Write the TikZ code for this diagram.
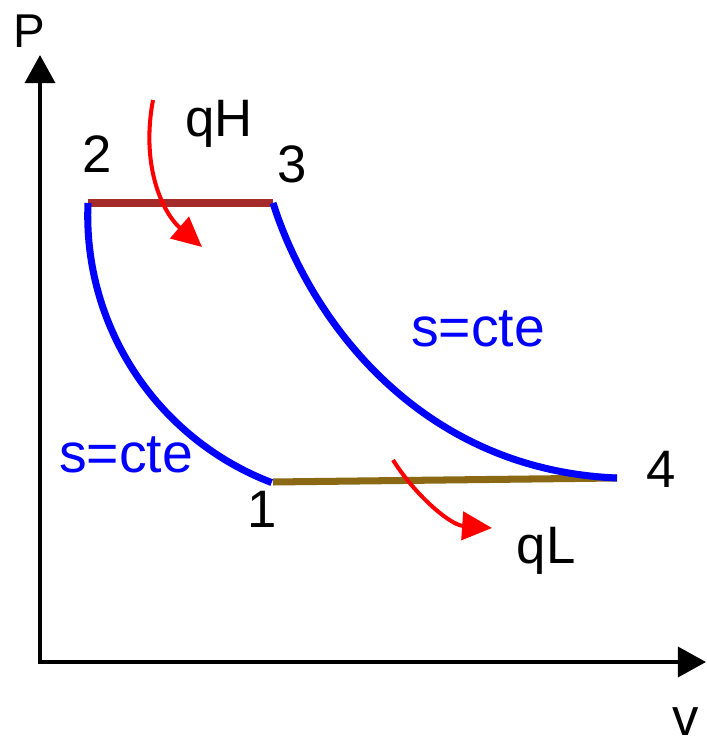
\documentclass[tikz,border=0pt]{standalone}
\usepackage{fontspec}
\setmainfont{Liberation Sans}
\usetikzlibrary{arrows.meta, positioning}
\definecolor{cIsen}{RGB}{0,0,255}
\definecolor{cHot}{RGB}{165,42,42}
\definecolor{cCold}{RGB}{139,105,20}
\definecolor{cHeat}{RGB}{255,0,0}
\tikzset{
  axisline/.style={line width=2.3pt, color=black,
                   {Triangle[length=16pt, width=17pt]}-{Triangle[length=16pt, width=17pt]}},
  isenline/.style={line width=4pt, color=cIsen},
  hotline/.style={line width=4pt, color=cHot},
  coldline/.style={line width=4pt, color=cCold},
  heatarrow/.style={line width=2.3pt, color=cHeat,
                    -{Triangle[length=17pt, width=16pt]}},
  statelabel/.style={font=\fontsize{30}{36}\selectfont, anchor=base, inner sep=0pt},
  isenlabel/.style={statelabel, font=\fontsize{31.5}{38}\selectfont, text=cIsen}
}
\begin{document}
\begin{tikzpicture}[x=0.02cm, y=0.02cm]
  \useasboundingbox (0,0) rectangle (706,743);

  % Axes
  \coordinate (orig) at (40,81);
  \coordinate (ptop) at (40,688);
  \coordinate (vend) at (706,81);
  \draw[axisline] (ptop) -- (orig) -- (vend);
  \node[statelabel, font=\fontsize{27}{32}\selectfont] (labP) at (29,695) {P};
  \node[statelabel] (labv) at (686,8) {v};

  % States
  \coordinate (s1) at (273,261);
  \coordinate (s2) at (88,540);
  \coordinate (s3) at (273,540);
  \coordinate (s4) at (617,265);

  % Heat addition / rejection
  \draw[hotline] (s2) -- (s3);
  \draw[coldline] (s1) -- (s4);

  % Isentropes
  \draw[isenline] (s2) arc[start angle=177.5, end angle=249.1, radius=5.72cm];
  \draw[isenline] (s3) .. controls (310,423) and (420,273) .. (s4);

  % Labels
  \node[statelabel] (lab1) at (262,215) {1};
  \node[statelabel] (lab2) at (97,570) {2};
  \node[statelabel] (lab3) at (292,560) {3};
  \node[statelabel] (lab4) at (661,255) {4};
  \node[isenlabel] (isenR) at (478,396) {s=cte};
  \node[isenlabel] (isenL) at (126,270) {s=cte};
  \node[statelabel] (labqH) at (219,606) {qH};
  \node[statelabel] (labqL) at (546,179) {qL};

  % Heat arrows
  \coordinate (qHin) at (153,643);
  \coordinate (qHtip) at (202,496);
  \coordinate (qLin) at (393,283);
  \coordinate (qLtip) at (492,215);
  \draw[heatarrow] (qHin) .. controls (140,573) and (165,528) .. (qHtip);
  \draw[heatarrow] (qLin) .. controls (415,248) and (450,218) .. (qLtip);

\end{tikzpicture}
\end{document}
